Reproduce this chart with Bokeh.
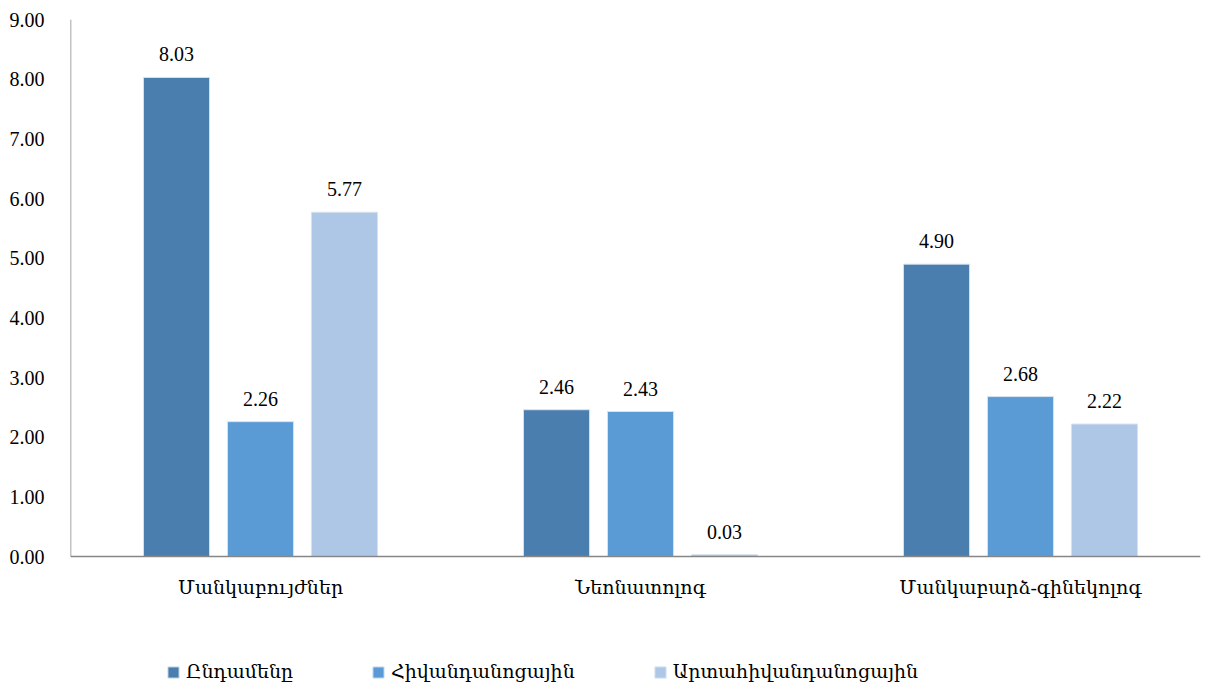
from bokeh.plotting import figure
from bokeh.models import ColumnDataSource, FixedTicker, Legend, LegendItem, NumeralTickFormatter, Range1d
from bokeh.embed import file_html
from bokeh.resources import INLINE
from bokeh.core.properties import value

categories = ["Մանկաբույժներ", "Նեոնատոլոգ", "Մանկաբարձ-գինեկոլոգ"]
series_names = ["Ընդամենը", "Հիվանդանոցային", "Արտահիվանդանոցային"]
total = [8.03, 2.46, 4.90]
hospital = [2.26, 2.43, 2.68]
outpatient = [5.77, 0.03, 2.22]
y_ticks = [0, 1, 2, 3, 4, 5, 6, 7, 8, 9]

colors = ["#4A7EAF", "#5B9BD5", "#AEC7E6"]
FONT = "Liberation Serif, DejaVu Serif, serif"
AXIS_COLOR = "#868686"

W, H = 1205, 683
TOP, LEFT, RIGHT = 19, 70, 5
PLOT_BOTTOM_PX = 556            # pixel row of value 0
px_per_unit = (PLOT_BOTTOM_PX - TOP) / 9.0
y_min = -(H - PLOT_BOTTOM_PX) / px_per_unit
x_max = (W - LEFT - RIGHT) / 380.0

p = figure(width=W, height=H, output_backend="svg", toolbar_location=None,
           x_range=Range1d(0, x_max), y_range=Range1d(y_min, 9),
           min_border_left=LEFT, min_border_right=RIGHT, min_border_top=TOP, min_border_bottom=0)
p.outline_line_color = None
p.grid.visible = False
p.xaxis.visible = False

centers = [i + 0.5 for i in range(len(categories))]
offsets = [-0.221, 0.0, 0.221]
bar_w = 0.174
renderers = []
for vals, off, col in zip([total, hospital, outpatient], offsets, colors):
    src = ColumnDataSource(dict(x=[c + off for c in centers], top=vals,
                                lbl=["%.2f" % v for v in vals]))
    r = p.vbar(x="x", top="top", width=bar_w, source=src, fill_color=col,
               line_color="#D6E3F1", line_width=1)
    renderers.append(r)
    p.text(x="x", y="top", text="lbl", source=src, text_align="center",
           text_baseline="bottom", y_offset=-16, text_font=value(FONT),
           text_font_size="20px", text_color="#000000")

# axis lines (baseline at 0 and vertical axis from 0 to 9)
p.segment(x0=[0, 0], y0=[0, 0], x1=[x_max, 0], y1=[0, 9], line_color=AXIS_COLOR, line_width=1.5)

# category labels
p.text(x=centers, y=[0] * len(centers), text=categories, text_align="center",
       text_baseline="middle", y_offset=31, text_font=value(FONT),
       text_font_size="19px", text_color="#000000")

p.yaxis.ticker = FixedTicker(ticks=y_ticks)
p.yaxis.formatter = NumeralTickFormatter(format="0.00")
p.yaxis.axis_line_color = None
p.yaxis.major_tick_line_color = None
p.yaxis.minor_tick_line_color = None
p.yaxis.major_label_text_font = FONT
p.yaxis.major_label_text_font_size = "20px"
p.yaxis.major_label_text_color = "#000000"
p.yaxis.major_label_standoff = 20

legend = Legend(items=[LegendItem(label=n, renderers=[r]) for n, r in zip(series_names, renderers)],
                orientation="horizontal", location=(96, 0),
                glyph_width=14, glyph_height=14, label_standoff=6, spacing=78, label_height=14,
                padding=0, margin=0, border_line_color=None, background_fill_alpha=0,
                label_text_font=FONT, label_text_font_size="19px", label_text_color="#000000")
p.add_layout(legend, "center")

open("out.html", "w").write(file_html(p, INLINE))
